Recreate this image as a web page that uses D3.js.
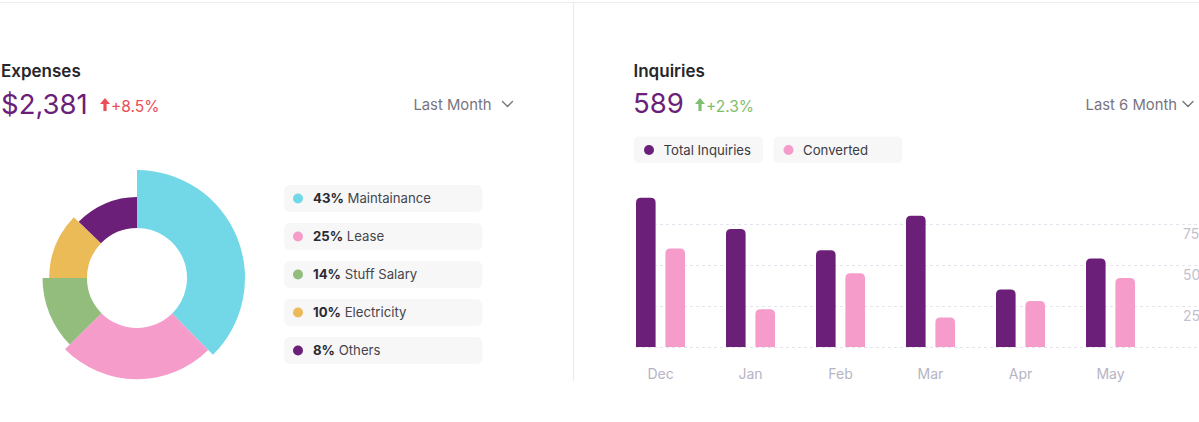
<!DOCTYPE html>
<html>
<head>
<meta charset="utf-8">
<script src="https://cdn.jsdelivr.net/npm/d3@7"></script>
<style>
  body { margin: 0; background: #fff; }
  svg { display: block; font-family: Inter, "Noto Sans", sans-serif; }
</style>
</head>
<body>
<svg id="chart" width="1199" height="422"></svg>
<script>
// ---- Data ----
const expenseNames = ["Maintainance", "Lease", "Stuff Salary", "Electricity", "Others"];
const expensePct = [43, 25, 14, 10, 8];
const expenseArcValues = [37.6, 25, 12.4, 12.2, 12.8]; // slice sizes as drawn
const expenseColors = ["#72d8e7", "#f59ccb", "#93bd7d", "#ebbb57", "#6b1f79"];

const months = ["Dec", "Jan", "Feb", "Mar", "Apr", "May"];
const totalInquiries = [91, 72, 59, 80, 35, 54];
const converted = [60, 23, 45, 18, 28, 42];
const yTicks = [25, 50, 75];
const seriesNames = ["Total Inquiries", "Converted"];
const seriesColors = ["#6b1f79", "#f59ccb"];

const svg = d3.select("#chart");

// ---- Frame lines ----
svg.append("line").attr("x1", 0).attr("x2", 1199).attr("y1", 2.5).attr("y2", 2.5)
  .attr("stroke", "#ececee").attr("stroke-width", 1.2);
svg.append("line").attr("x1", 573.5).attr("x2", 573.5).attr("y1", 2.5).attr("y2", 381)
  .attr("stroke", "#ececee").attr("stroke-width", 1.2);

function arrowUp(g, x, y, color) {
  g.append("path")
    .attr("d", `M${x},${y} L${x+5},${y+6} L${x+1.6},${y+6} L${x+1.6},${y+13} L${x-1.6},${y+13} L${x-1.6},${y+6} L${x-5},${y+6} Z`)
    .attr("fill", color);
}
function chevron(g, x, y) {
  g.append("path").attr("d", `M${x},${y} L${x+5},${y+5} L${x+10},${y}`)
    .attr("fill", "none").attr("stroke", "#77747f").attr("stroke-width", 1.4)
    .attr("stroke-linecap", "round").attr("stroke-linejoin", "round");
}

// ---- Left header ----
svg.append("text").attr("x", 1).attr("y", 77).text("Expenses")
  .attr("font-size", 17).attr("font-weight", 600).attr("fill", "#26262b");
svg.append("text").attr("x", 1).attr("y", 113.5).text("$2,381")
  .attr("font-size", 27.5).attr("font-weight", 400).attr("fill", "#6b1f79");
arrowUp(svg, 105, 98, "#ec4c55");
svg.append("text").attr("x", 111).attr("y", 111.5).text("+8.5%")
  .attr("font-size", 15.5).attr("fill", "#ec4c55");
svg.append("text").attr("x", 491.5).attr("y", 110).text("Last Month")
  .attr("font-size", 14.8).attr("fill", "#77747f").attr("text-anchor", "end");
chevron(svg, 502.5, 101.5);

// ---- Donut ----
const cx = 137, cy = 278;
const pie = d3.pie().sort(null).value(d => d);
const rScale = d3.scaleLinear().domain([0, expenseArcValues.length - 1]).range([108, 81]);
const donut = svg.append("g").attr("transform", `translate(${cx},${cy})`);
donut.selectAll("path").data(pie(expenseArcValues)).join("path")
  .attr("d", (d, i) => d3.arc().innerRadius(50).outerRadius(rScale(i))(d))
  .attr("fill", (d, i) => expenseColors[i]);

// ---- Left legend ----
const legY = d3.scaleBand().domain(expenseNames).range([185, 364]).paddingInner(11 / 38).paddingOuter(0);
const leg = svg.append("g");
const items = leg.selectAll("g").data(expenseNames).join("g")
  .attr("transform", d => `translate(284,${legY(d)})`);
items.append("rect").attr("width", 198.5).attr("height", legY.bandwidth())
  .attr("rx", 6).attr("fill", "#f7f7f8");
items.append("circle").attr("cx", 14).attr("cy", legY.bandwidth() / 2).attr("r", 5)
  .attr("fill", (d, i) => expenseColors[i]);
const lt = items.append("text").attr("x", 29).attr("y", legY.bandwidth() / 2 + 4.7)
  .attr("font-size", 13.2);
lt.append("tspan").attr("font-weight", 700).attr("fill", "#2a2a30").text((d, i) => expensePct[i] + "%");
lt.append("tspan").attr("fill", "#45454c").text(d => " " + d);

// ---- Right header ----
svg.append("text").attr("x", 633.5).attr("y", 77).text("Inquiries")
  .attr("font-size", 17).attr("font-weight", 600).attr("fill", "#26262b");
svg.append("text").attr("x", 633).attr("y", 113).text("589")
  .attr("font-size", 27.5).attr("font-weight", 400).attr("fill", "#6b1f79");
arrowUp(svg, 700, 98, "#7fbd6f");
svg.append("text").attr("x", 706).attr("y", 111.5).text("+2.3%")
  .attr("font-size", 15.5).attr("fill", "#7fbd6f");
svg.append("text").attr("x", 1177).attr("y", 110).text("Last 6 Month")
  .attr("font-size", 14.8).attr("fill", "#77747f").attr("text-anchor", "end");
chevron(svg, 1183, 101.5);

// ---- Right legend ----
const rl = [{x: 634, w: 129}, {x: 773.5, w: 129}];
seriesNames.forEach((name, i) => {
  const g = svg.append("g").attr("transform", `translate(${rl[i].x},136.5)`);
  g.append("rect").attr("width", rl[i].w).attr("height", 26.5).attr("rx", 5).attr("fill", "#f7f7f8");
  g.append("circle").attr("cx", 15).attr("cy", 13.5).attr("r", 5).attr("fill", seriesColors[i]);
  g.append("text").attr("x", 29.5).attr("y", 18).text(name)
    .attr("font-size", 13.2).attr("fill", "#3b3b42");
});

// ---- Bar chart ----
const y = d3.scaleLinear().domain([0, 100]).range([347, 183]);
const x0 = d3.scaleBand().domain(months).range([636, 1176]).paddingInner(0).paddingOuter(0);
const x1 = d3.scaleBand().domain([0, 1]).range([0, 49]).paddingInner(1 / 3).paddingOuter(0);

// grid
const grid = svg.append("g");
grid.selectAll("line").data([0, ...yTicks]).join("line")
  .attr("x1", 636).attr("x2", 1199)
  .attr("y1", d => Math.round(y(d)) + 0.5).attr("y2", d => Math.round(y(d)) + 0.5)
  .attr("stroke", "#e4e2ec").attr("stroke-width", 1).attr("stroke-dasharray", "3,3");

// right axis labels
const yAxis = d3.axisRight(y).tickValues(yTicks).tickSize(0).tickPadding(0);
const ya = svg.append("g").attr("transform", "translate(1183,10)").call(yAxis);
ya.select(".domain").remove();
ya.selectAll("text").attr("font-size", 14).attr("fill", "#c3c1ce")
  .attr("font-family", "Inter, 'Noto Sans', sans-serif").attr("text-anchor", "start");

function topRounded(x, yTop, w, yBase, r) {
  const h = yBase - yTop;
  r = Math.min(r, h, w / 2);
  return `M${x},${yBase} L${x},${yTop + r} Q${x},${yTop} ${x + r},${yTop} L${x + w - r},${yTop} Q${x + w},${yTop} ${x + w},${yTop + r} L${x + w},${yBase} Z`;
}

const series = [totalInquiries, converted];
const groups = svg.append("g").selectAll("g").data(months).join("g")
  .attr("transform", d => `translate(${x0(d)},0)`);
groups.selectAll("path").data((d, mi) => series.map((s, si) => ({si, v: s[mi]}))).join("path")
  .attr("d", d => topRounded(x1(d.si), y(d.v), x1.bandwidth(), y(0), 5))
  .attr("fill", d => seriesColors[d.si]);

// x axis labels
const xAxis = d3.axisBottom(x0).tickSize(0).tickPadding(0);
const xa = svg.append("g").attr("transform", "translate(0,369)").call(xAxis);
xa.select(".domain").remove();
xa.selectAll("text").attr("font-size", 14).attr("fill", "#b6b4c4")
  .attr("font-family", "Inter, 'Noto Sans', sans-serif").attr("dy", "0.7em");
xa.selectAll(".tick").attr("transform", d => `translate(${x0(d) + 24.5},0)`);
</script>
</body>
</html>
